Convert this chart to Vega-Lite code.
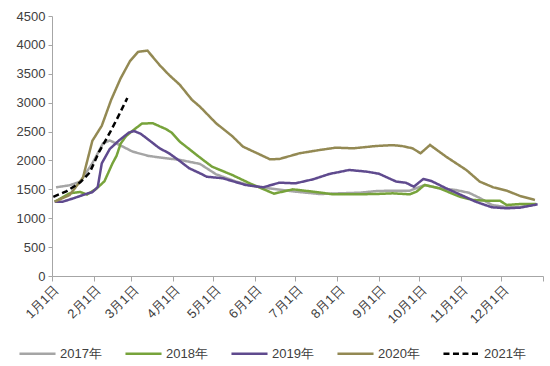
{
  "$schema": "https://vega.github.io/schema/vega-lite/v6.json",
  "width": 491,
  "height": 260,
  "autosize": {"type": "none"},
  "padding": {"left": 52, "top": 16, "right": 7, "bottom": 90},
  "background": "white",
  "config": {
    "view": {"stroke": null},
    "font": "Liberation Sans",
    "axis": {"labelFont": "Liberation Sans", "labelColor": "#404040", "labelFontSize": 13, "domainColor": "#A6A6A6", "tickColor": "#A6A6A6", "grid": false, "title": null}
  },
  "data": {
    "values": [
      {"year": "2017年", "d": "2021-01-04", "v": 1535},
      {"year": "2017年", "d": "2021-01-14", "v": 1570},
      {"year": "2017年", "d": "2021-01-22", "v": 1633},
      {"year": "2017年", "d": "2021-01-31", "v": 1951},
      {"year": "2017年", "d": "2021-02-03", "v": 2080},
      {"year": "2017年", "d": "2021-02-08", "v": 2300},
      {"year": "2017年", "d": "2021-02-13", "v": 2345},
      {"year": "2017年", "d": "2021-02-20", "v": 2270},
      {"year": "2017年", "d": "2021-03-02", "v": 2152},
      {"year": "2017年", "d": "2021-03-14", "v": 2077},
      {"year": "2017年", "d": "2021-03-27", "v": 2037},
      {"year": "2017年", "d": "2021-04-06", "v": 2010},
      {"year": "2017年", "d": "2021-04-21", "v": 1940},
      {"year": "2017年", "d": "2021-05-03", "v": 1760},
      {"year": "2017年", "d": "2021-05-18", "v": 1633},
      {"year": "2017年", "d": "2021-06-02", "v": 1546},
      {"year": "2017年", "d": "2021-06-17", "v": 1500},
      {"year": "2017年", "d": "2021-07-01", "v": 1460},
      {"year": "2017年", "d": "2021-07-19", "v": 1419},
      {"year": "2017年", "d": "2021-08-03", "v": 1431},
      {"year": "2017年", "d": "2021-08-18", "v": 1442},
      {"year": "2017年", "d": "2021-08-30", "v": 1470},
      {"year": "2017年", "d": "2021-09-11", "v": 1477},
      {"year": "2017年", "d": "2021-09-24", "v": 1477},
      {"year": "2017年", "d": "2021-10-05", "v": 1575},
      {"year": "2017年", "d": "2021-10-16", "v": 1518},
      {"year": "2017年", "d": "2021-10-28", "v": 1489},
      {"year": "2017年", "d": "2021-11-07", "v": 1440},
      {"year": "2017年", "d": "2021-11-15", "v": 1350},
      {"year": "2017年", "d": "2021-11-24", "v": 1230},
      {"year": "2017年", "d": "2021-12-05", "v": 1190},
      {"year": "2017年", "d": "2021-12-15", "v": 1195},
      {"year": "2017年", "d": "2021-12-27", "v": 1240},

      {"year": "2018年", "d": "2021-01-03", "v": 1286},
      {"year": "2018年", "d": "2021-01-14", "v": 1430},
      {"year": "2018年", "d": "2021-01-22", "v": 1455},
      {"year": "2018年", "d": "2021-01-27", "v": 1410},
      {"year": "2018年", "d": "2021-02-03", "v": 1510},
      {"year": "2018年", "d": "2021-02-09", "v": 1640},
      {"year": "2018年", "d": "2021-02-15", "v": 1951},
      {"year": "2018年", "d": "2021-02-18", "v": 2080},
      {"year": "2018年", "d": "2021-02-21", "v": 2290},
      {"year": "2018年", "d": "2021-02-25", "v": 2420},
      {"year": "2018年", "d": "2021-03-01", "v": 2498},
      {"year": "2018年", "d": "2021-03-05", "v": 2570},
      {"year": "2018年", "d": "2021-03-09", "v": 2640},
      {"year": "2018年", "d": "2021-03-17", "v": 2643},
      {"year": "2018年", "d": "2021-03-27", "v": 2540},
      {"year": "2018年", "d": "2021-03-31", "v": 2480},
      {"year": "2018年", "d": "2021-04-06", "v": 2325},
      {"year": "2018年", "d": "2021-04-21", "v": 2050},
      {"year": "2018年", "d": "2021-04-30", "v": 1892},
      {"year": "2018年", "d": "2021-05-15", "v": 1748},
      {"year": "2018年", "d": "2021-05-28", "v": 1604},
      {"year": "2018年", "d": "2021-06-15", "v": 1425},
      {"year": "2018年", "d": "2021-06-29", "v": 1500},
      {"year": "2018年", "d": "2021-07-14", "v": 1460},
      {"year": "2018年", "d": "2021-07-29", "v": 1414},
      {"year": "2018年", "d": "2021-08-13", "v": 1414},
      {"year": "2018年", "d": "2021-08-30", "v": 1419},
      {"year": "2018年", "d": "2021-09-11", "v": 1431},
      {"year": "2018年", "d": "2021-09-24", "v": 1414},
      {"year": "2018年", "d": "2021-09-29", "v": 1460},
      {"year": "2018年", "d": "2021-10-05", "v": 1575},
      {"year": "2018年", "d": "2021-10-16", "v": 1518},
      {"year": "2018年", "d": "2021-10-31", "v": 1373},
      {"year": "2018年", "d": "2021-11-10", "v": 1316},
      {"year": "2018年", "d": "2021-11-20", "v": 1303},
      {"year": "2018年", "d": "2021-11-30", "v": 1303},
      {"year": "2018年", "d": "2021-12-05", "v": 1229},
      {"year": "2018年", "d": "2021-12-15", "v": 1246},
      {"year": "2018年", "d": "2021-12-27", "v": 1246},

      {"year": "2019年", "d": "2021-01-03", "v": 1286},
      {"year": "2019年", "d": "2021-01-09", "v": 1286},
      {"year": "2019年", "d": "2021-01-17", "v": 1345},
      {"year": "2019年", "d": "2021-01-27", "v": 1425},
      {"year": "2019年", "d": "2021-01-31", "v": 1450},
      {"year": "2019年", "d": "2021-02-04", "v": 1540},
      {"year": "2019年", "d": "2021-02-07", "v": 1950},
      {"year": "2019年", "d": "2021-02-13", "v": 2200},
      {"year": "2019年", "d": "2021-02-20", "v": 2350},
      {"year": "2019年", "d": "2021-02-27", "v": 2480},
      {"year": "2019年", "d": "2021-03-03", "v": 2510},
      {"year": "2019年", "d": "2021-03-08", "v": 2460},
      {"year": "2019年", "d": "2021-03-14", "v": 2354},
      {"year": "2019年", "d": "2021-03-22", "v": 2210},
      {"year": "2019年", "d": "2021-03-29", "v": 2124},
      {"year": "2019年", "d": "2021-04-06", "v": 1990},
      {"year": "2019年", "d": "2021-04-13", "v": 1864},
      {"year": "2019年", "d": "2021-04-21", "v": 1778},
      {"year": "2019年", "d": "2021-04-26", "v": 1719},
      {"year": "2019年", "d": "2021-05-08", "v": 1691},
      {"year": "2019年", "d": "2021-05-25", "v": 1575},
      {"year": "2019年", "d": "2021-06-07", "v": 1535},
      {"year": "2019年", "d": "2021-06-19", "v": 1615},
      {"year": "2019年", "d": "2021-07-01", "v": 1604},
      {"year": "2019年", "d": "2021-07-14", "v": 1673},
      {"year": "2019年", "d": "2021-07-26", "v": 1765},
      {"year": "2019年", "d": "2021-08-10", "v": 1835},
      {"year": "2019年", "d": "2021-08-23", "v": 1806},
      {"year": "2019年", "d": "2021-09-01", "v": 1770},
      {"year": "2019年", "d": "2021-09-14", "v": 1633},
      {"year": "2019年", "d": "2021-09-21", "v": 1615},
      {"year": "2019年", "d": "2021-09-27", "v": 1546},
      {"year": "2019年", "d": "2021-10-04", "v": 1679},
      {"year": "2019年", "d": "2021-10-10", "v": 1644},
      {"year": "2019年", "d": "2021-10-21", "v": 1518},
      {"year": "2019年", "d": "2021-10-31", "v": 1414},
      {"year": "2019年", "d": "2021-11-12", "v": 1286},
      {"year": "2019年", "d": "2021-11-24", "v": 1189},
      {"year": "2019年", "d": "2021-12-05", "v": 1172},
      {"year": "2019年", "d": "2021-12-15", "v": 1183},
      {"year": "2019年", "d": "2021-12-28", "v": 1241},

      {"year": "2020年", "d": "2021-01-03", "v": 1286},
      {"year": "2020年", "d": "2021-01-14", "v": 1400},
      {"year": "2020年", "d": "2021-01-24", "v": 1700},
      {"year": "2020年", "d": "2021-01-31", "v": 2340},
      {"year": "2020年", "d": "2021-02-07", "v": 2600},
      {"year": "2020年", "d": "2021-02-14", "v": 3050},
      {"year": "2020年", "d": "2021-02-21", "v": 3420},
      {"year": "2020年", "d": "2021-02-28", "v": 3720},
      {"year": "2020年", "d": "2021-03-06", "v": 3880},
      {"year": "2020年", "d": "2021-03-13", "v": 3900},
      {"year": "2020年", "d": "2021-03-22", "v": 3650},
      {"year": "2020年", "d": "2021-03-29", "v": 3480},
      {"year": "2020年", "d": "2021-04-06", "v": 3310},
      {"year": "2020年", "d": "2021-04-15", "v": 3050},
      {"year": "2020年", "d": "2021-04-21", "v": 2930},
      {"year": "2020年", "d": "2021-05-03", "v": 2643},
      {"year": "2020年", "d": "2021-05-15", "v": 2420},
      {"year": "2020年", "d": "2021-05-23", "v": 2238},
      {"year": "2020年", "d": "2021-06-02", "v": 2130},
      {"year": "2020年", "d": "2021-06-12", "v": 2020},
      {"year": "2020年", "d": "2021-06-19", "v": 2025},
      {"year": "2020年", "d": "2021-07-04", "v": 2124},
      {"year": "2020年", "d": "2021-07-19", "v": 2181},
      {"year": "2020年", "d": "2021-07-31", "v": 2221},
      {"year": "2020年", "d": "2021-08-13", "v": 2210},
      {"year": "2020年", "d": "2021-08-30", "v": 2250},
      {"year": "2020年", "d": "2021-09-11", "v": 2265},
      {"year": "2020年", "d": "2021-09-18", "v": 2250},
      {"year": "2020年", "d": "2021-09-26", "v": 2210},
      {"year": "2020年", "d": "2021-10-02", "v": 2124},
      {"year": "2020年", "d": "2021-10-09", "v": 2268},
      {"year": "2020年", "d": "2021-10-21", "v": 2065},
      {"year": "2020年", "d": "2021-11-05", "v": 1835},
      {"year": "2020年", "d": "2021-11-15", "v": 1633},
      {"year": "2020年", "d": "2021-11-25", "v": 1535},
      {"year": "2020年", "d": "2021-12-05", "v": 1477},
      {"year": "2020年", "d": "2021-12-15", "v": 1385},
      {"year": "2020年", "d": "2021-12-26", "v": 1316},

      {"year": "2021年", "d": "2021-01-02", "v": 1370},
      {"year": "2021年", "d": "2021-01-12", "v": 1470},
      {"year": "2021年", "d": "2021-01-22", "v": 1620},
      {"year": "2021年", "d": "2021-01-29", "v": 1790},
      {"year": "2021年", "d": "2021-02-05", "v": 2150},
      {"year": "2021年", "d": "2021-02-13", "v": 2480},
      {"year": "2021年", "d": "2021-02-19", "v": 2750},
      {"year": "2021年", "d": "2021-02-26", "v": 3080}
    ]
  },
  "mark": {"type": "line", "strokeWidth": 2.5, "interpolate": "linear"},
  "encoding": {
    "x": {
      "field": "d",
      "type": "temporal",
      "scale": {"type": "utc", "domain": [{"year": 2021, "month": 1, "date": 1, "utc": true}, {"year": 2022, "month": 1, "date": 1, "utc": true}]},
      "axis": {
        "values": [
          {"year": 2021, "month": 1, "date": 1, "utc": true},
          {"year": 2021, "month": 2, "date": 1, "utc": true},
          {"year": 2021, "month": 3, "date": 1, "utc": true},
          {"year": 2021, "month": 4, "date": 1, "utc": true},
          {"year": 2021, "month": 5, "date": 1, "utc": true},
          {"year": 2021, "month": 6, "date": 1, "utc": true},
          {"year": 2021, "month": 7, "date": 1, "utc": true},
          {"year": 2021, "month": 8, "date": 1, "utc": true},
          {"year": 2021, "month": 9, "date": 1, "utc": true},
          {"year": 2021, "month": 10, "date": 1, "utc": true},
          {"year": 2021, "month": 11, "date": 1, "utc": true},
          {"year": 2021, "month": 12, "date": 1, "utc": true},
          {"year": 2022, "month": 1, "date": 1, "utc": true}
        ],
        "format": "%-m月%-d日",
        "labelExpr": "utcyear(datum.value) == 2022 ? '' : datum.label",
        "labelAngle": -45,
        "labelFontSize": 13,
        "labelOverlap": false,
        "labelBound": false,
        "tickSize": 5,
        "labelPadding": 2
      }
    },
    "y": {
      "field": "v",
      "type": "quantitative",
      "scale": {"domain": [0, 4500], "nice": false},
      "axis": {"values": [0, 500, 1000, 1500, 2000, 2500, 3000, 3500, 4000, 4500], "format": "d", "tickSize": 4, "labelPadding": 3, "labelFontSize": 13}
    },
    "color": {
      "field": "year",
      "type": "nominal",
      "scale": {"domain": ["2017年", "2018年", "2019年", "2020年", "2021年"], "range": ["#A5A5A5", "#77A33B", "#5F4A8E", "#938953", "#000000"]},
      "legend": {
        "title": null,
        "orient": "none",
        "legendX": -34,
        "legendY": 318,
        "direction": "horizontal",
        "symbolType": "stroke",
        "symbolSize": 1300,
        "symbolStrokeWidth": 2.5,
        "labelFontSize": 13,
        "labelColor": "#404040",
        "labelFont": "Liberation Sans",
        "labelOffset": 3,
        "columnPadding": 18
      }
    },
    "strokeDash": {
      "field": "year",
      "type": "nominal",
      "scale": {"domain": ["2017年", "2018年", "2019年", "2020年", "2021年"], "range": [[1, 0], [1, 0], [1, 0], [1, 0], [6, 3.5]]},
      "legend": {
        "title": null,
        "orient": "none",
        "legendX": -34,
        "legendY": 318,
        "direction": "horizontal",
        "symbolType": "stroke",
        "symbolSize": 1300,
        "symbolStrokeWidth": 2.5,
        "labelFontSize": 13,
        "labelColor": "#404040",
        "labelFont": "Liberation Sans",
        "labelOffset": 3,
        "columnPadding": 18
      }
    }
  }
}
